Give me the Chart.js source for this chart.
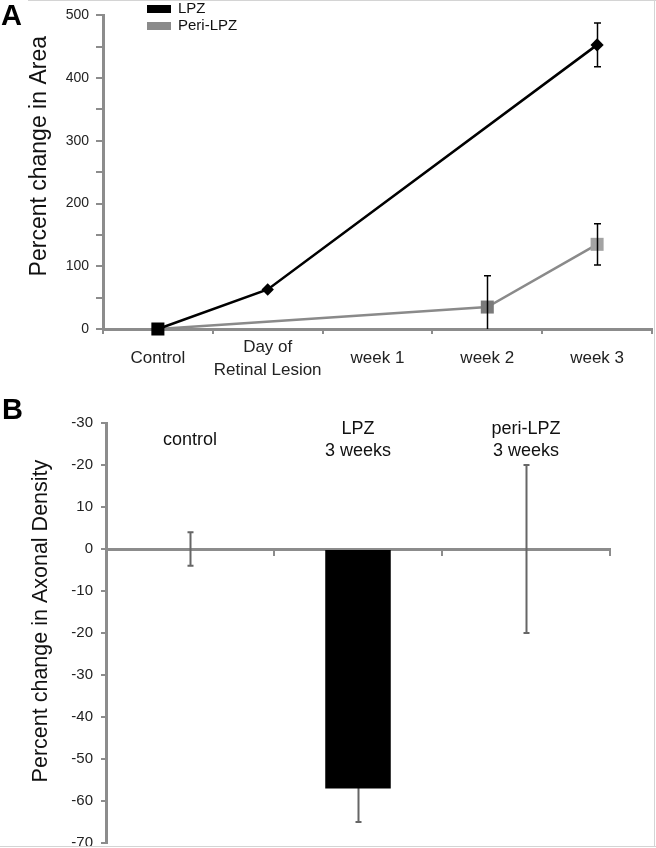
<!DOCTYPE html>
<html>
<head>
<meta charset="utf-8">
<script src="https://cdn.jsdelivr.net/npm/chart.js@4.4.0/dist/chart.umd.min.js"></script>
<style>
  html, body { margin: 0; padding: 0; background: #fff; }
  #page { position: relative; width: 656px; height: 848px; overflow: hidden; font-family: "Liberation Sans", Arial, sans-serif; }
  .panel { position: absolute; left: 0; width: 656px; }
  #wrapA { top: 0; height: 385px; }
  #wrapB { top: 385px; height: 463px; }
  .tag { position: absolute; font-weight: bold; font-size: 29px; line-height: 1; color: #000; }
  .rule { position: absolute; background: #d4d4d4; }
</style>
</head>
<body>
<div id="page">
  <div class="panel" id="wrapA"><canvas id="chartA" width="656" height="385"></canvas></div>
  <div class="panel" id="wrapB"><canvas id="chartB" width="656" height="463"></canvas></div>
  <div class="tag" style="left:1px; top:1px;">A</div>
  <div class="tag" style="left:2px; top:395px;">B</div>
  <div class="rule" style="left:28px; top:0; width:628px; height:1px;"></div>
  <div class="rule" style="left:654px; top:0; width:1px; height:847px;"></div>
  <div class="rule" style="left:0; top:846px; width:656px; height:1px;"></div>
</div>
<script>
// Panel A: percent change in area
const areaCategories = ['Control', ['Day of', 'Retinal Lesion'], 'week 1', 'week 2', 'week 3'];
const lpzArea = [0, 63, null, null, 453];
const lpzAreaErr = [0, 0, 0, 0, 35];
const periArea = [0, null, null, 35, 135];
const periAreaErr = [0, 0, 0, 50, 33];
const areaTickLabels = ['0', '100', '200', '300', '400', '500'];

// Panel B: percent change in axonal density
const densityCategories = [['control'], ['LPZ', '3 weeks'], ['peri-LPZ', '3 weeks']];
const densityValues = [0, -57, 0];
const densityErr = [4, 8, 20];
const densityTickLabels = ['-70', '-60', '-50', '-40', '-30', '-20', '-10', '0', '10', '-20', '-30'];

const FONT = '"Liberation Sans", Arial, sans-serif';

// error bars read from dataset.errors
function drawErrorBars(chart, opts) {
    const ctx = chart.ctx;
    const yScale = chart.scales.y;
    const area = chart.chartArea;
    ctx.save();
    ctx.beginPath();
    ctx.rect(area.left, area.top - 5, area.right - area.left, area.bottom - area.top + 5);
    ctx.clip();
    ctx.strokeStyle = opts.color;
    ctx.lineWidth = opts.width;
    chart.data.datasets.forEach((ds, di) => {
        if (!ds.errors) return;
        const meta = chart.getDatasetMeta(di);
        meta.data.forEach((el, i) => {
            const v = ds.data[i];
            const e = ds.errors[i];
            if (v == null || !e) return;
            const x = Math.round(el.x) + 0.5;
            const top = yScale.getPixelForValue(v + e);
            const bot = yScale.getPixelForValue(v - e);
            ctx.beginPath();
            ctx.moveTo(x, top);
            ctx.lineTo(x, bot);
            ctx.moveTo(x - opts.cap / 2, top);
            ctx.lineTo(x + opts.cap / 2, top);
            ctx.moveTo(x - opts.cap / 2, bot);
            ctx.lineTo(x + opts.cap / 2, bot);
            ctx.stroke();
        });
    });
    ctx.restore();
}

const errorBarPlugin = {
    id: 'errorBars',
    beforeDatasetsDraw(chart, args, opts) { if (opts.under) drawErrorBars(chart, opts); },
    afterDatasetsDraw(chart, args, opts) { if (!opts.under) drawErrorBars(chart, opts); }
};

// stacked legend in the top left of panel A
const sideLegend = {
    id: 'sideLegend',
    afterDraw(chart, args, opts) {
        const ctx = chart.ctx;
        ctx.save();
        ctx.font = '15px ' + FONT;
        ctx.textBaseline = 'middle';
        chart.data.datasets.forEach((ds, i) => {
            const y = opts.y + i * opts.gap;
            ctx.fillStyle = ds.borderColor;
            ctx.fillRect(opts.x, y - 4, 24, 8);
            ctx.fillStyle = '#111';
            ctx.fillText(ds.label, opts.x + 31, y);
        });
        ctx.restore();
    }
};

// category names written inside the top of panel B
const topLabels = {
    id: 'topLabels',
    afterDraw(chart, args, opts) {
        const ctx = chart.ctx;
        const xScale = chart.scales.x;
        const area = chart.chartArea;
        ctx.save();
        ctx.font = '18px ' + FONT;
        ctx.fillStyle = '#111';
        ctx.textAlign = 'center';
        ctx.textBaseline = 'middle';
        chart.data.labels.forEach((lab, i) => {
            const lines = [].concat(lab);
            const px = xScale.getPixelForValue(i);
            const y0 = area.top + opts.offset - (lines.length - 1) * opts.lineHeight / 2;
            lines.forEach((t, j) => ctx.fillText(t, px, y0 + j * opts.lineHeight));
        });
        ctx.restore();
    }
};

const axisGray = '#8c8c8c';

new Chart(document.getElementById('chartA'), {
    type: 'line',
    data: {
        labels: areaCategories,
        datasets: [
            {
                label: 'LPZ',
                data: lpzArea,
                errors: lpzAreaErr,
                borderColor: '#000',
                backgroundColor: '#000',
                borderWidth: 2.5,
                pointStyle: ['rect', 'rectRot', 'rectRot', 'rectRot', 'rectRot'],
                pointRadius: [8.5, 6.2, 6.2, 6.2, 6.6],
                pointBackgroundColor: '#000',
                pointBorderWidth: 0,
                spanGaps: true,
                clip: false
            },
            {
                label: 'Peri-LPZ',
                data: periArea,
                errors: periAreaErr,
                borderColor: '#8a8a8a',
                backgroundColor: '#8a8a8a',
                borderWidth: 2.5,
                pointStyle: 'rect',
                pointRadius: 9.2,
                pointBackgroundColor: ['#000', '#8a8a8a', '#8a8a8a', '#7a7a7a', '#a3a3a3'],
                pointBorderWidth: 0,
                spanGaps: true,
                clip: false
            }
        ]
    },
    options: {
        responsive: false,
        animation: false,
        layout: { autoPadding: false, padding: { top: 12, right: 4, left: 0, bottom: 0 } },
        plugins: {
            legend: { display: false },
            tooltip: { enabled: false },
            errorBars: { color: '#000', width: 1.5, cap: 7 },
            sideLegend: { x: 147, y: 9, gap: 17 }
        },
        scales: {
            x: {
                offset: true,
                grid: { offset: true, drawOnChartArea: false, tickLength: 5, color: axisGray, lineWidth: 2 },
                border: { color: axisGray, width: 3 },
                ticks: { color: '#222', font: { size: 17, family: FONT, lineHeight: 1.35 }, padding: 13, maxRotation: 0, autoSkip: false, crossAlign: 'center' },
                afterFit: (s) => { s.height = 56; s.paddingLeft = 0; s.paddingRight = 0; }
            },
            y: {
                min: 0,
                max: 500,
                ticks: {
                    stepSize: 50,
                    callback: (v) => (v % 100 === 0 ? areaTickLabels[v / 100] : ''),
                    color: '#222',
                    font: { size: 14, family: FONT },
                    padding: 7
                },
                grid: { drawOnChartArea: false, tickLength: 7, color: axisGray, lineWidth: 2 },
                border: { color: axisGray, width: 3 },
                title: { display: true, text: '     Percent change in Area', color: '#111', font: { size: 23, family: FONT }, padding: { top: 26, bottom: 0 } },
                afterFit: (s) => { s.width = 103; }
            }
        }
    },
    plugins: [errorBarPlugin, sideLegend]
});

new Chart(document.getElementById('chartB'), {
    type: 'bar',
    data: {
        labels: densityCategories,
        datasets: [{
            data: densityValues,
            errors: densityErr,
            backgroundColor: '#000',
            borderWidth: 0,
            barPercentage: 0.39,
            categoryPercentage: 1
        }]
    },
    options: {
        responsive: false,
        animation: false,
        layout: { padding: { top: 38, right: 46, bottom: 5, left: 0 } },
        plugins: {
            legend: { display: false },
            tooltip: { enabled: false },
            errorBars: { color: '#666', width: 2, cap: 6, under: true },
            topLabels: { offset: 17, lineHeight: 22 }
        },
        scales: {
            x: {
                position: { y: 0 },
                ticks: { display: false },
                grid: { offset: true, drawOnChartArea: false, tickLength: 5, color: axisGray, lineWidth: 2 },
                border: { color: axisGray, width: 3 },
                afterFit: (s) => { s.height = 0; s.paddingLeft = 0; s.paddingRight = 0; }
            },
            y: {
                min: -70,
                max: 30,
                ticks: {
                    stepSize: 10,
                    callback: (v, i) => densityTickLabels[i],
                    color: '#222',
                    font: { size: 15, family: FONT },
                    padding: 8
                },
                grid: { drawOnChartArea: false, tickLength: 5, color: axisGray, lineWidth: 2 },
                border: { color: axisGray, width: 3 },
                title: { display: true, text: '    Percent change in Axonal Density', color: '#111', font: { size: 21.5, family: FONT }, padding: { top: 28, bottom: 0 } },
                afterFit: (s) => { s.width = 106; s.paddingTop = 0; s.paddingBottom = 0; }
            }
        }
    },
    plugins: [errorBarPlugin, topLabels]
});
</script>
</body>
</html>
